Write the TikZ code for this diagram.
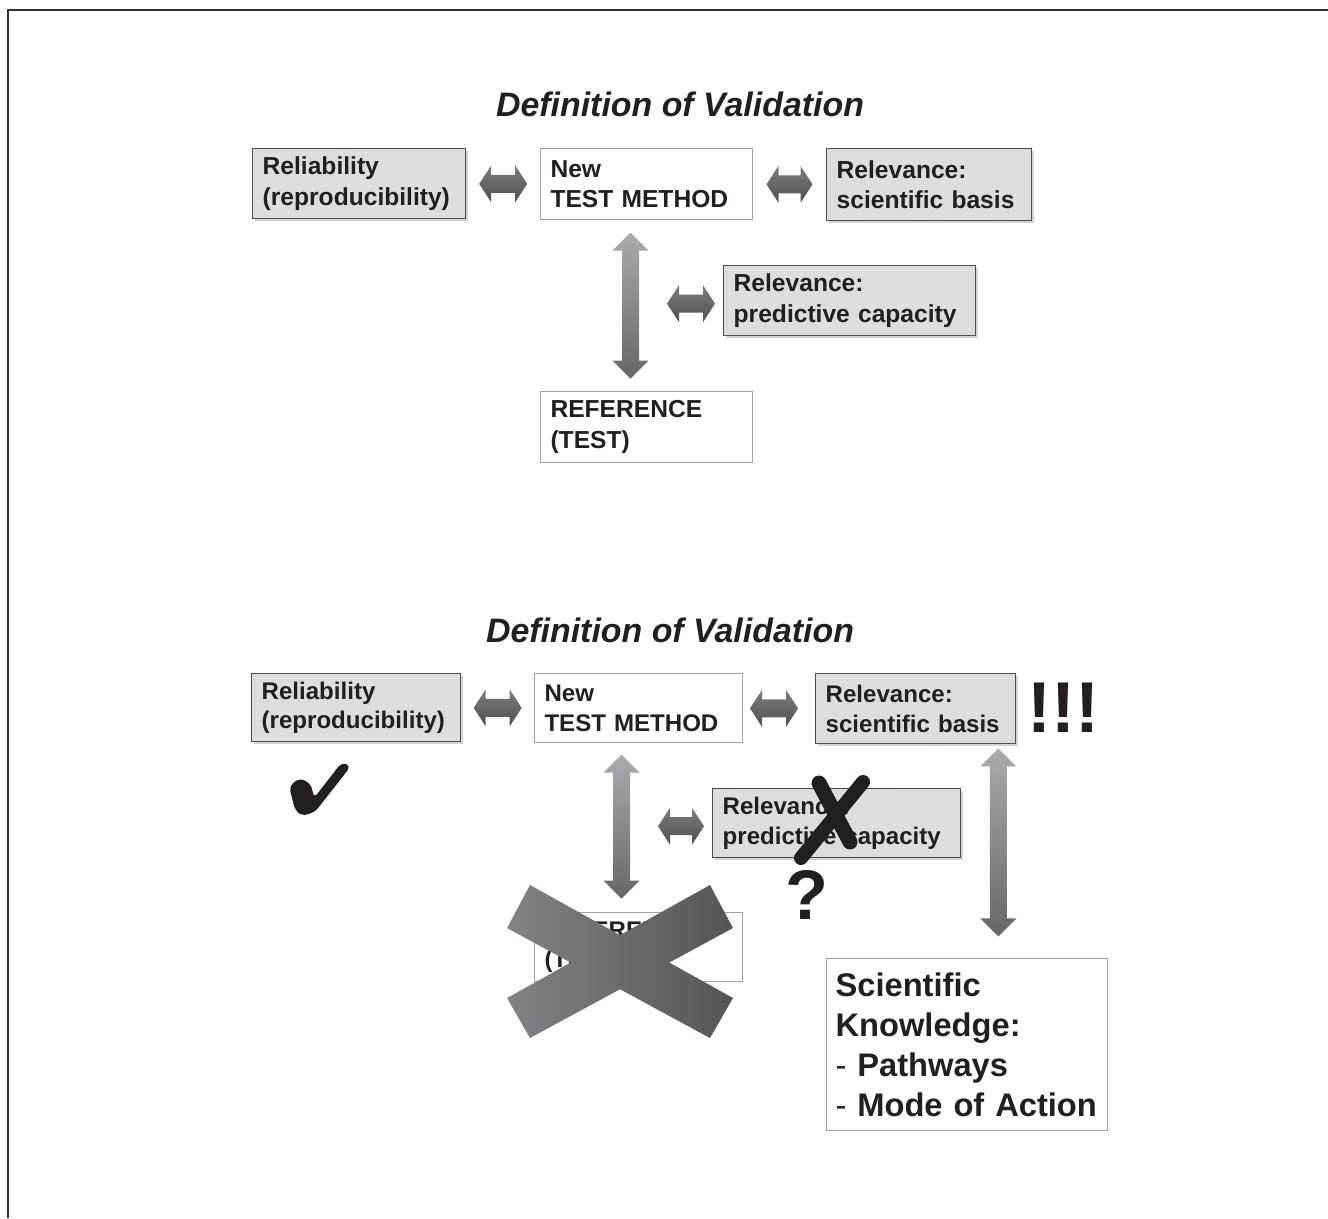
\documentclass[tikz,border=0pt]{standalone}
\usepackage{fontspec}
\setmainfont{Liberation Sans}
\usetikzlibrary{calc,shadows}

\definecolor{boxfill}{HTML}{DCDDDE}
\definecolor{boxline}{HTML}{4D4D4F}
\definecolor{wline}{HTML}{A0A2A5}
\definecolor{ink}{HTML}{231F20}
\definecolor{harrtop}{HTML}{7B7C7F}
\definecolor{harrbot}{HTML}{505153}
\definecolor{varrtop}{HTML}{A9ABAE}
\definecolor{varrbot}{HTML}{666769}
\definecolor{xleft}{HTML}{828386}
\definecolor{xright}{HTML}{545557}

\newcommand{\boxfont}{\fontsize{14}{17.4}\selectfont\bfseries}
\newcommand{\lowboxfont}{\fontsize{13.7}{17}\selectfont\bfseries}
\newcommand{\titlefont}{\fontsize{19.3}{23}\selectfont\bfseries\itshape}
\newcommand{\knowfont}{\fontsize{18.6}{22.8}\selectfont\bfseries}

\tikzset{
  base box/.style={anchor=north west, inner xsep=0.2cm, inner ysep=0pt,
                   align=left, font=\boxfont, text=ink},
  gray box/.style={base box, draw=boxline, line width=0.8pt, fill=boxfill,
                   drop shadow={shadow xshift=0.05cm, shadow yshift=-0.05cm, opacity=0.35}},
  white box/.style={base box, draw=wline, line width=0.6pt, fill=white},
  harrow/.pic={
    \shade[top color=harrtop, bottom color=harrbot]
      (-#1,0) -- ({-#1+12},-18.5) -- ({-#1+12},-9) -- ({#1-12},-9) -- ({#1-12},-18.5)
      -- (#1,0) -- ({#1-12},18.5) -- ({#1-12},9) -- ({-#1+12},9) -- ({-#1+12},18.5) -- cycle;
  },
  varrow/.pic={
    \shade[top color=varrtop, bottom color=varrbot]
      (0,-#1) -- (18,{-#1+18}) -- (8.5,{-#1+18}) -- (8.5,{#1-18}) -- (18,{#1-18})
      -- (0,#1) -- (-18,{#1-18}) -- (-8.5,{#1-18}) -- (-8.5,{-#1+18}) -- (-18,{-#1+18}) -- cycle;
  }
}

\begin{document}
\begin{tikzpicture}[x=0.02cm, y=-0.02cm]
  \useasboundingbox (0,0) rectangle (1328,1218);
  \draw[line width=0.05cm, color=black!80] (8,1218) -- (8,10) -- (1328,10);

  % upper scheme
  \node[font=\titlefont, text=ink] (title) at (680,104) {Definition of Validation};

  \node[gray box, text width=3.86cm, minimum height=1.4cm] (rel) at (252,148)
    {Reliability\\(reproducibility)};
  \node[white box, text width=3.84cm, minimum height=1.42cm] (new) at (540,148)
    {New\\TEST METHOD};
  \node[gray box, text width=3.7cm, minimum height=1.44cm] (sci) at (826,148)
    {Relevance:\\scientific basis};
  \node[gray box, text width=4.64cm, minimum height=1.4cm] (pred) at (723,265)
    {Relevance:\\predictive capacity};
  \node[white box, text width=3.84cm, minimum height=1.42cm] (ref) at (540,391)
    {REFERENCE\\(TEST)};

  \pic at ($(rel.east)!.5!(new.west)$) {harrow=24};
  \pic at ($(new.east)!.5!(sci.west)$) {harrow=23};
  \pic at ($(new.south)!.5!(ref.north)+(-16,0)$) {varrow=73};
  \pic at ($(pred.west)+(-32,3)$) {harrow=24};

  % lower scheme
  \node[font=\titlefont, text=ink] (title2) at (670,630) {Definition of Validation};

  \node[gray box, font=\lowboxfont, text width=3.78cm, minimum height=1.36cm] (relb) at (251,673)
    {Reliability\\(reproducibility)};
  \node[white box, font=\lowboxfont, text width=3.76cm, minimum height=1.38cm] (newb) at (534,673)
    {New\\TEST METHOD};
  \node[gray box, font=\lowboxfont, text width=3.6cm, minimum height=1.4cm] (scib) at (815,673)
    {Relevance:\\scientific basis};
  \node[gray box, font=\lowboxfont, text width=4.56cm, minimum height=1.38cm] (predb) at (712,788)
    {Relevance:\\predictive capacity};
  \node[white box, font=\lowboxfont, text width=3.76cm, minimum height=1.38cm] (refb) at (534,912)
    {REFERENCE\\(TEST)};
  \node[white box, font=\knowfont, inner xsep=0.18cm, text width=5.26cm, minimum height=3.44cm]
    (know) at (826,958)
    {Scientific\\Knowledge:\\{\mdseries -} Pathways\\{\mdseries -} Mode of Action};

  \pic at ($(relb.east)!.5!(newb.west)$) {harrow=24};
  \pic at ($(newb.east)!.5!(scib.west)+(-5,0)$) {harrow=24};
  \pic at ($(newb.south)!.5!(refb.north)+(-17,-1)$) {varrow=72};
  \pic at ($(predb.west)+(-31,3)$) {harrow=23};
  \pic at ($(scib.south east)+(-18,98)$) {varrow=94};

  \node[font=\fontsize{41}{41}\selectfont\bfseries, text=ink, inner sep=0pt, anchor=base west]
    (bang) at (1027,732) {!!!};
  \node[font=\fontsize{40}{40}\selectfont\bfseries, text=ink, inner sep=0pt, anchor=base west]
    (quest) at (785,919) {?};

  % tick for reliability
  \fill[ink, rounded corners=3] (289,786) -- (300,778) -- (311,784) -- (314,798)
    -- (342,762) -- (351,766) -- (315,812) -- (302,816) -- (295,810) -- cycle;

  % crossed out predictive capacity
  \draw[ink, line width=0.3cm, line cap=round] (819,783) -- (850,842);
  \draw[ink, line width=0.28cm, line cap=round] (863,782) -- (801,858);

  % crossed out reference test
  \shade[left color=xleft, right color=xright]
    (507,928) -- (530,885) -- (733,998) -- (710,1038) -- cycle;
  \shade[left color=xleft, right color=xright]
    (710,885) -- (733,928) -- (530,1038) -- (507,998) -- cycle;
\end{tikzpicture}
\end{document}
